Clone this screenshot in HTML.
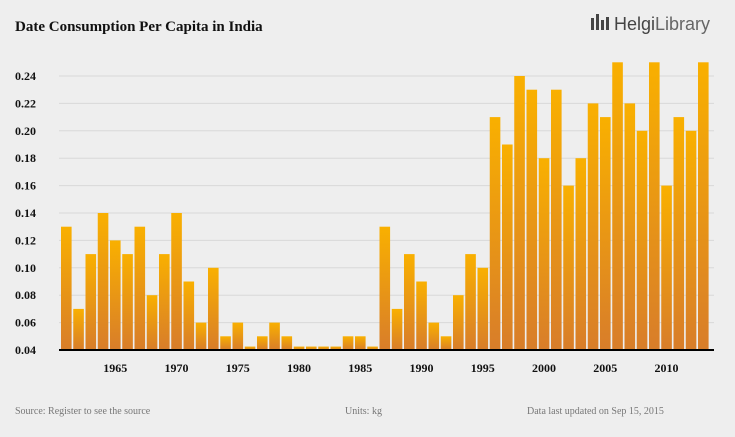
<!DOCTYPE html>
<html><head><meta charset="utf-8"><style>
body{margin:0;background:#eeeeee;font-family:"Liberation Serif",serif;}
</style></head><body>
<svg width="735" height="432" xmlns="http://www.w3.org/2000/svg">
<defs><linearGradient id="g" x1="0" y1="0" x2="0" y2="1"><stop offset="0" stop-color="#f9b000"/><stop offset="1" stop-color="#d87d2a"/></linearGradient></defs>
<rect width="735" height="432" fill="#eeeeee"/>
<text x="15" y="31" font-size="15" font-weight="bold" fill="#111">Date Consumption Per Capita in India</text>
<g>
<rect x="591" y="18" width="3" height="12" fill="#444"/><rect x="596" y="14" width="3" height="16" fill="#444"/><rect x="601" y="20" width="3" height="10" fill="#444"/><rect x="606" y="17" width="3" height="13" fill="#444"/>
<text x="614" y="30" font-family="Liberation Sans, sans-serif" font-size="18" fill="#444">Helgi<tspan fill="#666">Library</tspan></text></g>
<g id="grid"></g><g id="bars"></g><g id="ylab"></g><g id="xlab"></g>
<line x1="59" y1="350" x2="714" y2="350" stroke="#000" stroke-width="2"/>
<text x="15" y="414" font-size="10" fill="#777">Source: Register to see the source</text>
<text x="345" y="414" font-size="10" fill="#777">Units: kg</text>
<text x="527" y="414" font-size="10" fill="#777">Data last updated on Sep 15, 2015</text>
</svg>
<script>
const years=[];for(let y=1961;y<=2013;y++)years.push(y);
const values=[0.13,0.07,0.11,0.14,0.12,0.11,0.13,0.08,0.11,0.14,0.09,0.06,0.10,0.05,0.06,0.0425,0.05,0.06,0.05,0.0425,0.0425,0.0425,0.0425,0.05,0.05,0.0425,0.13,0.07,0.11,0.09,0.06,0.05,0.08,0.11,0.10,0.21,0.19,0.24,0.23,0.18,0.23,0.16,0.18,0.22,0.21,0.25,0.22,0.20,0.25,0.16,0.21,0.20,0.25];
const yTicks=[0.04,0.06,0.08,0.10,0.12,0.14,0.16,0.18,0.20,0.22,0.24];
const xTicks=[1965,1970,1975,1980,1985,1990,1995,2000,2005,2010];
const NS="http://www.w3.org/2000/svg";
const y0=350,y1=76,v0=0.04,v1=0.24;
const Y=v=>y0-(v-v0)/(v1-v0)*(y0-y1);
const x0=61,pitch=12.25,bw=10.6;
const X=yr=>x0+(yr-years[0])*pitch;
function mk(t,p,a){const e=document.createElementNS(NS,t);for(const k in a)e.setAttribute(k,a[k]);document.getElementById(p).appendChild(e);return e;}
yTicks.forEach(t=>{
 const l=mk('line','grid',{x1:59,x2:714,y1:Y(t),y2:Y(t),stroke:'#d8d8d8','stroke-width':1});
 
 
 const tx=mk('text','ylab',{x:15,y:Y(t)+4,'font-size':12,'font-weight':'bold',fill:'#111'});tx.textContent=t.toFixed(2);
 
 
});
years.forEach((yr,i)=>{
 const r=mk('rect','bars',{x:X(yr),y:Y(values[i]),width:bw,height:y0-Y(values[i]),fill:'url(#g)'});
 
 
});
xTicks.forEach(yr=>{
 const tx=mk('text','xlab',{x:X(yr)+bw/2,y:372,'font-size':12,'font-weight':'bold',fill:'#111','text-anchor':'middle'});tx.textContent=yr;
 
 
});
</script>
</body></html>
